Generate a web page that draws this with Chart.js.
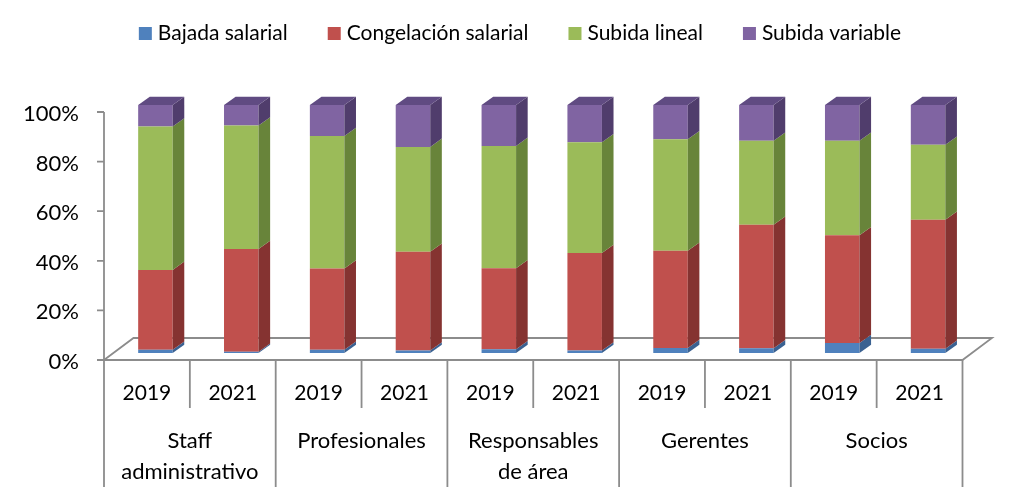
<!DOCTYPE html>
<html><head><meta charset="utf-8">
<script src="https://cdn.jsdelivr.net/npm/chart.js@4"></script>
<style>html,body{margin:0;padding:0;background:#fff;overflow:hidden}</style>
</head><body><canvas id="c" width="1024" height="499" style="width:1024px;height:499px;display:block"></canvas>
<script>
// ---- data ----
const years = ['2019','2021','2019','2021','2019','2021','2019','2021','2019','2021'];
const groups = [['Staff','administrativo'],['Profesionales'],['Responsables','de área'],['Gerentes'],['Socios']];
const categories = ['Staff administrativo 2019','Staff administrativo 2021','Profesionales 2019','Profesionales 2021','Responsables de área 2019','Responsables de área 2021','Gerentes 2019','Gerentes 2021','Socios 2019','Socios 2021'];
const seriesNames = ['Bajada salarial','Congelación salarial','Subida lineal','Subida variable'];
const bajada      = [1.3, 0.5, 1.3, 1.0, 1.5, 1.0, 2.0, 1.9, 4.0, 1.7];
const congelacion = [32.2,41.4,32.8,39.8,32.7,39.3,39.2,49.8,43.5,52.0];
const lineal      = [57.8,49.8,53.4,42.3,49.3,44.7,45.0,33.9,38.1,30.3];
const variable    = [8.7, 8.3,12.5,16.9,16.5,15.0,13.8,14.4,14.4,16.0];
const yTicks = [0,20,40,60,80,100];
const yTickLabels = ['0%','20%','40%','60%','80%','100%'];

// ---- style ----
const FONT = 'Lato, "Open Sans", sans-serif';
const frontColors = ['#4f81bd','#c0504d','#9bbb59','#8064a2'];
const sideColors  = ['#3a6191','#853331','#68843a','#503d6c'];
const topColor    = '#604b82';
const axisColor   = '#8c8c8c';
const BAR_SHIFT = {x: 8.5, y: -7};
const DEPTH = {x: 11.6, y: 8.3};
const FLOOR = {x: 29.5, y: 22};

const threeD = {
  id: 'threeD',
  beforeDatasetsDraw(chart) {
    const ctx = chart.ctx, a = chart.chartArea;
    const xs = chart.scales.x, ys = chart.scales.y;
    ctx.save();
    ctx.strokeStyle = axisColor; ctx.lineWidth = 1.8; ctx.lineCap = 'butt';
    // floor
    ctx.beginPath();
    ctx.moveTo(a.left, a.bottom); ctx.lineTo(a.right, a.bottom);
    ctx.lineTo(a.right + FLOOR.x, a.bottom - FLOOR.y);
    ctx.lineTo(a.left + FLOOR.x, a.bottom - FLOOR.y);
    ctx.lineTo(a.left, a.bottom);
    ctx.stroke();
    // y axis
    ctx.beginPath();
    ctx.moveTo(a.left, ys.getPixelForValue(100)); ctx.lineTo(a.left, a.bottom);
    yTicks.forEach(v => { const y = ys.getPixelForValue(v); ctx.moveTo(a.left - 7, y); ctx.lineTo(a.left, y); });
    ctx.stroke();
    ctx.fillStyle = '#000'; ctx.font = '22px ' + FONT; ctx.textAlign = 'right'; ctx.textBaseline = 'middle';
    yTicks.forEach((v, i) => ctx.fillText(yTickLabels[i], 79, ys.getPixelForValue(v) + 2));
    // x axis two-level labels
    const n = years.length, w = (a.right - a.left) / n;
    ctx.beginPath();
    for (let i = 0; i <= n; i++) {
      const x = a.left + i * w;
      ctx.moveTo(x, a.bottom); ctx.lineTo(x, i % 2 === 0 ? a.bottom + 127 : a.bottom + 48);
    }
    ctx.stroke();
    ctx.textAlign = 'center';
    ctx.font = '21px ' + FONT;
    years.forEach((t, i) => ctx.fillText(t, xs.getPixelForValue(i), a.bottom + 33));
    ctx.font = '22px ' + FONT;
    groups.forEach((lines, g) => {
      const cx = (xs.getPixelForValue(2 * g) + xs.getPixelForValue(2 * g + 1)) / 2;
      lines.forEach((t, k) => ctx.fillText(t, cx, a.bottom + 81 + k * 31));
    });
    // legend
    ctx.font = '21px ' + FONT; ctx.textAlign = 'left';
    const box = 13, gapT = 6, gapI = 40;
    const widths = seriesNames.map(s => ctx.measureText(s).width);
    const total = widths.reduce((s, v) => s + box + gapT + v, 0) + gapI * (seriesNames.length - 1);
    let lx = 520 - total / 2;
    seriesNames.forEach((s, i) => {
      ctx.fillStyle = frontColors[i]; ctx.fillRect(lx, 27, box, box);
      ctx.fillStyle = '#000'; ctx.fillText(s, lx + box + gapT, 33);
      lx += box + gapT + widths[i] + gapI;
    });
    ctx.restore();
    ctx.save();
    ctx.translate(BAR_SHIFT.x, BAR_SHIFT.y);
  },
  afterDatasetsDraw(chart) {
    const ctx = chart.ctx;
    const last = chart.data.datasets.length - 1;
    chart.data.datasets.forEach((ds, d) => {
      chart.getDatasetMeta(d).data.forEach(el => {
        const l = el.x - el.width / 2, r = el.x + el.width / 2;
        const top = Math.min(el.y, el.base), bot = Math.max(el.y, el.base);
        if (bot - top < 0.01) return;
        ctx.fillStyle = sideColors[d];
        ctx.beginPath();
        ctx.moveTo(r, bot); ctx.lineTo(r + DEPTH.x, bot - DEPTH.y);
        ctx.lineTo(r + DEPTH.x, top - DEPTH.y); ctx.lineTo(r, top); ctx.closePath(); ctx.fill();
        if (d === last) {
          ctx.fillStyle = topColor;
          ctx.beginPath();
          ctx.moveTo(l, top); ctx.lineTo(l + DEPTH.x, top - DEPTH.y);
          ctx.lineTo(r + DEPTH.x, top - DEPTH.y); ctx.lineTo(r, top); ctx.closePath(); ctx.fill();
        }
      });
    });
    ctx.restore();
  }
};

const seriesValues = [bajada, congelacion, lineal, variable];
new Chart(document.getElementById('c'), {
  type: 'bar',
  data: {
    labels: categories,
    datasets: seriesNames.map((name, i) => ({
      label: name, data: seriesValues[i], backgroundColor: frontColors[i],
      borderWidth: 0, categoryPercentage: 1, barPercentage: 0.402, clip: false
    }))
  },
  options: {
    responsive: false, animation: false, devicePixelRatio: 1,
    layout: { padding: { left: 104, right: 61.5, top: 112, bottom: 139 } },
    plugins: { legend: { display: false }, tooltip: { enabled: false } },
    scales: {
      x: { stacked: true, display: false },
      y: { stacked: true, display: false, min: 0, max: 100 }
    }
  },
  plugins: [threeD]
});
</script>
</body></html>
